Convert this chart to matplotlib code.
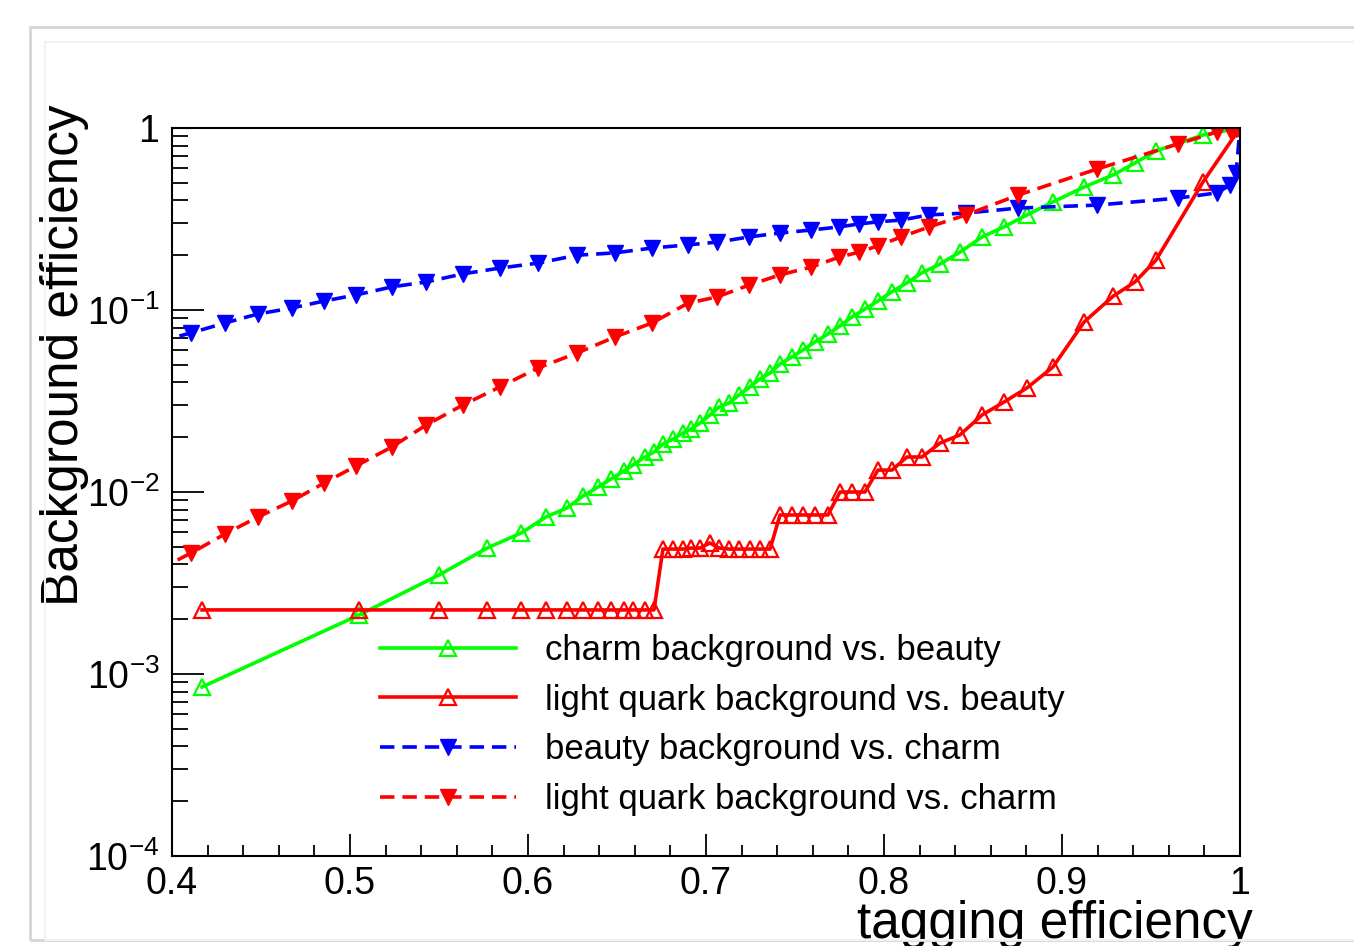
import math
import matplotlib
matplotlib.use("Agg")
import matplotlib.pyplot as plt
from matplotlib.patches import Rectangle
from matplotlib.ticker import MultipleLocator, LogLocator, FuncFormatter, NullFormatter

# beauty tagging efficiency (shared by both "vs. beauty" curves)
eff_b = [0.4169, 0.5051, 0.5500, 0.5770, 0.5961, 0.6101, 0.6219, 0.6309, 0.6393, 0.6466,
         0.6539, 0.6590, 0.6657, 0.6708, 0.6758, 0.6815, 0.6871, 0.6916, 0.6966, 0.7022,
         0.7073, 0.7129, 0.7185, 0.7247, 0.7303, 0.7360, 0.7416, 0.7483, 0.7545, 0.7612,
         0.7685, 0.7753, 0.7820, 0.7893, 0.7966, 0.8045, 0.8129, 0.8213, 0.8315, 0.8427,
         0.8551, 0.8674, 0.8803, 0.8949, 0.9124, 0.9287, 0.9410, 0.9528, 0.9792, 1.0]

charm_vs_b = [0.000849, 0.00211, 0.00350, 0.00492, 0.00595, 0.00729, 0.00817, 0.00951, 0.01064, 0.01179,
              0.01304, 0.01407, 0.01557, 0.01660, 0.01836, 0.01955, 0.0211, 0.0222, 0.0239, 0.0265,
              0.0293, 0.0308, 0.0341, 0.0378, 0.0418, 0.0451, 0.0505, 0.0552, 0.0603, 0.0667,
              0.0738, 0.0817, 0.0916, 0.1012, 0.112, 0.126, 0.141, 0.160, 0.179, 0.208,
              0.252, 0.286, 0.333, 0.392, 0.474, 0.552, 0.642, 0.748, 0.915, 1.0]

light_vs_b = [0.00225, 0.00225, 0.00225, 0.00225, 0.00225, 0.00225, 0.00225, 0.00225, 0.00225, 0.00225,
              0.00225, 0.00225, 0.00225, 0.00225, 0.00486, 0.00486, 0.00486, 0.00492, 0.00492, 0.00525,
              0.00492, 0.00486, 0.00486, 0.00486, 0.00486, 0.00486, 0.00748, 0.00748, 0.00748, 0.00748,
              0.00748, 0.0100, 0.0100, 0.0100, 0.0132, 0.0132, 0.01557, 0.01557, 0.01858, 0.0206,
              0.0265, 0.0312, 0.0373, 0.0486, 0.0859, 0.119, 0.1426, 0.188, 0.505, 1.0]

# charm tagging efficiency (shared by both "vs. charm" curves)
eff_c = [0.392, 0.4107, 0.4298, 0.4483, 0.4674, 0.4854, 0.5034, 0.5236, 0.5427, 0.5635,
         0.5843, 0.6056, 0.6275, 0.6489, 0.6697, 0.6899, 0.7062, 0.7242, 0.7416, 0.7590,
         0.7747, 0.7860, 0.7966, 0.8096, 0.8253, 0.8461, 0.8753, 0.9197, 0.9652, 0.9871,
         0.9944, 0.9978, 1.0]

beauty_vs_c = [0.0669, 0.0748, 0.0849, 0.0951, 0.1026, 0.112, 0.121, 0.134, 0.1425, 0.158,
               0.170, 0.181, 0.200, 0.206, 0.219, 0.228, 0.236, 0.252, 0.265, 0.275,
               0.286, 0.297, 0.305, 0.312, 0.333, 0.341, 0.363, 0.377, 0.412, 0.440,
               0.486, 0.566, 1.0]

light_vs_c = [0.00372, 0.00462, 0.00588, 0.00729, 0.00893, 0.0112, 0.0139, 0.0177, 0.0233, 0.0301,
              0.0378, 0.0480, 0.0580, 0.0711, 0.0849, 0.109, 0.118, 0.137, 0.156, 0.172,
              0.195, 0.208, 0.225, 0.252, 0.286, 0.333, 0.428, 0.595, 0.817, 0.951,
              0.975, 0.99, 1.0]

labels = [
    "charm background vs. beauty",
    "light quark background vs. beauty",
    "beauty background vs. charm",
    "light quark background vs. charm",
]

plt.rcParams["font.family"] = ["Liberation Sans", "DejaVu Sans"]
plt.rcParams["mathtext.fontset"] = "custom"
plt.rcParams["mathtext.rm"] = "Liberation Sans"
plt.rcParams["mathtext.it"] = "Liberation Sans:italic"
plt.rcParams["mathtext.bf"] = "Liberation Sans:bold"

fig = plt.figure(figsize=(13.54, 9.46), dpi=100)
ax = fig.add_axes([0.1270, 0.0951, 0.7888, 0.7696])

# canvas frame
fig.patches.append(Rectangle((30 / 1354, 6 / 946), 1.0, 913 / 946, transform=fig.transFigure,
                             fill=False, edgecolor="#d6d6d6", linewidth=2.0, zorder=0))
fig.patches.append(Rectangle((45 / 1354, 6 / 946), 1.0, 898 / 946, transform=fig.transFigure,
                             fill=False, edgecolor="#f2f2f2", linewidth=1.5, zorder=0))

lw = 2.6
dash = (0, (4, 2.2))
ax.plot(eff_b, charm_vs_b, color="#00ff00", lw=lw, marker="^", ms=12,
        mfc="none", mec="#00ff00", mew=1.6, label=labels[0])
ax.plot(eff_b, light_vs_b, color="#ff0000", lw=lw, marker="^", ms=12,
        mfc="none", mec="#ff0000", mew=1.6, label=labels[1])
ax.plot(eff_c, beauty_vs_c, color="#0000ff", lw=lw, ls=dash, marker="v", ms=11,
        mfc="#0000ff", mec="#0000ff", label=labels[2])
ax.plot(eff_c, light_vs_c, color="#ff0000", lw=lw, ls=dash, marker="v", ms=11,
        mfc="#ff0000", mec="#ff0000", label=labels[3])

ax.set_xlim(0.4, 1.0)
ax.set_yscale("log")
ax.set_ylim(1e-4, 1)

ax.xaxis.set_major_locator(MultipleLocator(0.1))
ax.xaxis.set_minor_locator(MultipleLocator(0.02))
ax.xaxis.set_major_formatter(FuncFormatter(lambda v, p: "%g" % round(v, 2)))

ax.yaxis.set_major_locator(LogLocator(base=10))
ax.yaxis.set_minor_locator(LogLocator(base=10, subs=range(2, 10)))
ax.yaxis.set_minor_formatter(NullFormatter())


def ylab(v, p):
    if abs(v - 1) < 1e-9:
        return "1"
    return r"$\mathregular{10^{%d}}$" % round(math.log10(v))


ax.yaxis.set_major_formatter(FuncFormatter(ylab))

for s in ax.spines.values():
    s.set_linewidth(1.5)

ax.tick_params(axis="both", which="both", direction="in", top=False, right=False,
               width=1.3, labelsize=27)
ax.tick_params(axis="y", which="major", length=23, pad=9)
ax.tick_params(axis="y", which="minor", length=11.5)
ax.tick_params(axis="x", which="major", length=16, pad=7)
ax.tick_params(axis="x", which="minor", length=8)

ax.set_xlabel("tagging efficiency", fontsize=37, loc="right")
ax.xaxis.set_label_coords(1.012, -0.06)
ax.set_ylabel("Background efficiency", fontsize=37, loc="top")
ax.yaxis.set_label_coords(-0.078, 1.032)

ax.legend(loc="upper left", bbox_to_anchor=(0.195, 0.305), frameon=False,
          fontsize=25, numpoints=1, handlelength=3.9, handletextpad=0.84,
          labelspacing=0.48, borderpad=0, borderaxespad=0)

fig.savefig("out.png", dpi=100)
